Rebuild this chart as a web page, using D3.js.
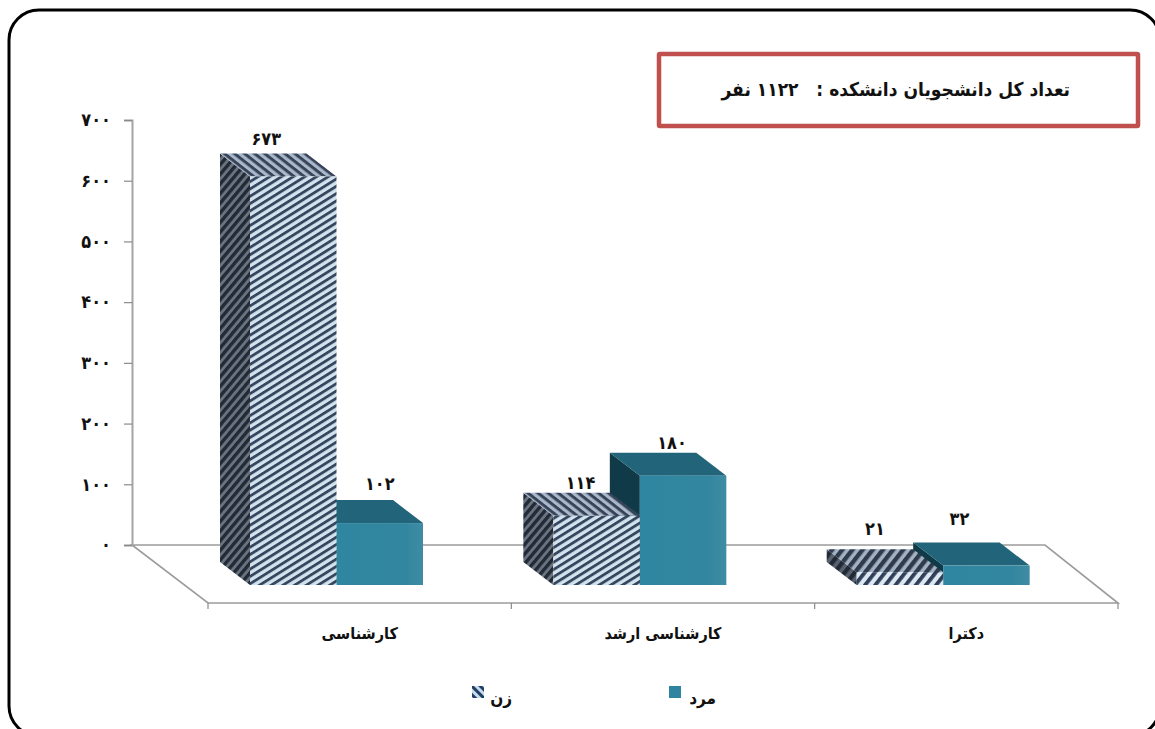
<!DOCTYPE html>
<html lang="fa">
<head>
<meta charset="utf-8">
<script src="https://cdn.jsdelivr.net/npm/d3@7"></script>
<style>
html, body { margin: 0; padding: 0; background: #fff; overflow: hidden; }
svg { display: block; }
text { font-family: "DejaVu Sans Condensed", "DejaVu Sans", sans-serif; font-weight: bold; font-stretch: condensed; fill: #111; }
</style>
</head>
<body>
<div id="chart"></div>
<script>
var categories = ["کارشناسی", "کارشناسی ارشد", "دکترا"];
var seriesNames = ["زن", "مرد"];
var women = [673, 114, 21];
var men = [102, 180, 32];
var yTicks = [0, 100, 200, 300, 400, 500, 600, 700];
var titleText = "تعداد کل دانشجویان دانشکده :\u00a0\u00a0\u00a0۱۱۲۲ نفر";

var width = 1155;
var height = 729;

// where the chart sits on the page
var y_top = 120;
var y_zero = 545;
var floor_left = 132;
var floor_right = 1045;
var floor_dx = 76;
var floor_dy = 58;
// how far the bar's back face is shifted from its front face
var depth_dx = 30;
var depth_dy = 23;
var base_y = 585;
var bar_inset = 42;
var bar_width = 86.5;

// hand placed value labels in the original, offset from the front face
var label_nudge = [
    [[-27, -31], [0, -33]],
    [[-16, -27], [-11, -27]],
    [[-25, -37], [-27, -41]]
];

var svg = d3.select("#chart")
    .append("svg")
    .attr("width", width)
    .attr("height", height);

var defs = svg.append("defs");

function stripes(id, bg, fg, size, line, angle) {
    var p = defs.append("pattern")
        .attr("id", id)
        .attr("patternUnits", "userSpaceOnUse")
        .attr("width", size)
        .attr("height", size)
        .attr("patternTransform", "rotate(" + angle + ")");
    p.append("rect").attr("width", size).attr("height", size).attr("fill", bg);
    p.append("rect").attr("width", size).attr("height", line).attr("fill", fg);
}
stripes("womenFront", "#d3e3ee", "#36465e", 6.2, 2.8, -32);
stripes("womenSide", "#6a7480", "#222a36", 6.2, 3.4, -50);
stripes("womenTop", "#a9b9ca", "#38435a", 6.2, 3.0, 38);
// the shallow doctoral bar has coarser, steeper stripes
stripes("womenFrontWide", "#dce9f3", "#2f3f58", 8, 3.8, -52);
stripes("womenTopWide", "#a3b3c4", "#2f3a4c", 8, 4.4, -52);
stripes("womenSideWide", "#59636f", "#222a36", 8, 4.4, -52);
stripes("legendSwatch", "#c9dcec", "#1f3f66", 6, 3, 45);

var frontShade = defs.append("linearGradient").attr("id", "menFront");
frontShade.append("stop").attr("offset", "0").attr("stop-color", "#2f86a0");
frontShade.append("stop").attr("offset", "0.8").attr("stop-color", "#33869f");
frontShade.append("stop").attr("offset", "1").attr("stop-color", "#3f8ca4");

// card border, runs off the right and bottom of the page
svg.append("rect")
    .attr("x", 9)
    .attr("y", 10)
    .attr("width", 1151)
    .attr("height", 726)
    .attr("rx", 30)
    .attr("fill", "#fff")
    .attr("stroke", "#000")
    .attr("stroke-width", 3);

var x_scale = d3.scaleBand()
    .domain(categories)
    .range([floor_left + floor_dx, floor_right + floor_dx - 3]);

var series_scale = d3.scaleBand()
    .domain(seriesNames)
    .range([bar_inset, bar_inset + bar_width * 2]);

var y_scale = d3.scaleLinear()
    .domain([0, 700])
    .range([y_zero, y_top]);

function toPersian(n) {
    return String(n).replace(/\d/g, function (d) {
        return "۰۱۲۳۴۵۶۷۸۹"[+d];
    });
}

// floor
var floor = svg.append("g").attr("class", "floor");
var x_left = x_scale.range()[0];
var x_right = x_scale.range()[1];
floor.append("path")
    .attr("d", "M" + floor_left + "," + y_zero +
        "H" + floor_right +
        "L" + x_right + "," + (y_zero + floor_dy) +
        "H" + x_left + "Z")
    .attr("fill", "none")
    .attr("stroke", "#9c9c9c")
    .attr("stroke-width", 1.6);

var boundaries = categories.map(function (c) { return x_scale(c); }).concat([x_right]);
floor.selectAll("line.boundary")
    .data(boundaries)
    .enter()
    .append("line")
    .attr("class", "boundary")
    .attr("x1", function (d) { return d; })
    .attr("x2", function (d) { return d; })
    .attr("y1", y_zero + floor_dy)
    .attr("y2", y_zero + floor_dy + 6)
    .attr("stroke", "#8a8a8a")
    .attr("stroke-width", 1.2);

// y axis
var yAxis = d3.axisLeft(y_scale)
    .tickValues(yTicks)
    .tickSize(8)
    .tickPadding(13)
    .tickFormat(toPersian);

var yG = svg.append("g")
    .attr("transform", "translate(" + floor_left + ",0)")
    .call(yAxis);
yG.select(".domain").attr("stroke", "#a4a4a4").attr("stroke-width", 2);
yG.selectAll(".tick line").attr("stroke", "#8a8a8a").attr("stroke-width", 1.2);
yG.selectAll(".tick text")
    .style("font-size", "18px")
    .style("font-family", "'DejaVu Sans Condensed', 'DejaVu Sans', sans-serif")
    .attr("fill", "#111");

// x labels
var xAxis = d3.axisBottom(x_scale).tickSize(0).tickPadding(25);
var xG = svg.append("g")
    .attr("transform", "translate(0," + (y_zero + floor_dy) + ")")
    .call(xAxis);
xG.select(".domain").remove();
xG.selectAll(".tick text")
    .style("font-size", "16px")
    .style("font-family", "'DejaVu Sans Condensed', 'DejaVu Sans', sans-serif")
    .attr("direction", "rtl")
    .attr("fill", "#111");

function quad(points) {
    return "M" + points.map(function (p) { return p.join(","); }).join("L") + "Z";
}

function drawBar(g, x0, value, fills) {
    var h = y_zero - y_scale(value);
    var x1 = x0 + series_scale.bandwidth();
    var top = base_y - h;
    var bx = x0 - depth_dx;
    // left side
    g.append("path")
        .attr("d", quad([[x0, top], [x0, base_y], [bx, base_y - depth_dy], [bx, top - depth_dy]]))
        .attr("fill", fills.side);
    // top
    g.append("path")
        .attr("d", quad([[x0, top], [x1, top], [x1 - depth_dx, top - depth_dy], [bx, top - depth_dy]]))
        .attr("fill", fills.top);
    // front
    g.append("rect")
        .attr("x", x0)
        .attr("y", top)
        .attr("width", x1 - x0)
        .attr("height", h)
        .attr("fill", fills.front);
}

var womenFills = { side: "url(#womenSide)", top: "url(#womenTop)", front: "url(#womenFront)" };
var womenFillsWide = { side: "url(#womenSideWide)", top: "url(#womenTopWide)", front: "url(#womenFrontWide)" };
var menFills = { side: "#103a48", top: "#22657b", front: "url(#menFront)" };

var bars = svg.append("g").attr("class", "bars");
categories.forEach(function (c, i) {
    var g = bars.append("g").attr("class", "group");
    var offset = x_scale(c);
    // the men's bar goes first, the women's bar covers its left side
    drawBar(g, offset + series_scale(seriesNames[1]), men[i], menFills);
    drawBar(g, offset + series_scale(seriesNames[0]), women[i], i == 2 ? womenFillsWide : womenFills);
});

// value labels
categories.forEach(function (c, i) {
    [women[i], men[i]].forEach(function (v, s) {
        var n = label_nudge[i][s];
        svg.append("text")
            .attr("x", x_scale(c) + series_scale(seriesNames[s]) + series_scale.bandwidth() / 2 + n[0])
            .attr("y", base_y - (y_zero - y_scale(v)) + n[1])
            .attr("text-anchor", "middle")
            .style("font-size", "18px")
            .text(toPersian(v));
    });
});

// title box
var box = svg.append("g").attr("class", "title-box");
box.append("rect")
    .attr("x", 659)
    .attr("y", 54)
    .attr("width", 479)
    .attr("height", 72)
    .attr("rx", 1)
    .attr("fill", "#fff")
    .attr("stroke", "#c0504d")
    .attr("stroke-width", 4.5);
box.append("text")
    .attr("x", 1070)
    .attr("y", 96)
    .attr("text-anchor", "start")
    .attr("direction", "rtl")
    .style("font-size", "19px")
    .text(titleText);

// legend
var legend = svg.append("g").attr("class", "legend");
var legend_x = [472, 669];
var legend_fill = ["url(#legendSwatch)", "#2f84a0"];
var legend_text_x = [512, 716];
seriesNames.forEach(function (name, i) {
    legend.append("rect")
        .attr("x", legend_x[i])
        .attr("y", 686)
        .attr("width", 12)
        .attr("height", 12)
        .attr("fill", legend_fill[i]);
    legend.append("text")
        .attr("x", legend_text_x[i])
        .attr("y", 704)
        .attr("text-anchor", "start")
        .attr("direction", "rtl")
        .style("font-size", "17px")
        .text(name);
});
</script>
</body>
</html>
